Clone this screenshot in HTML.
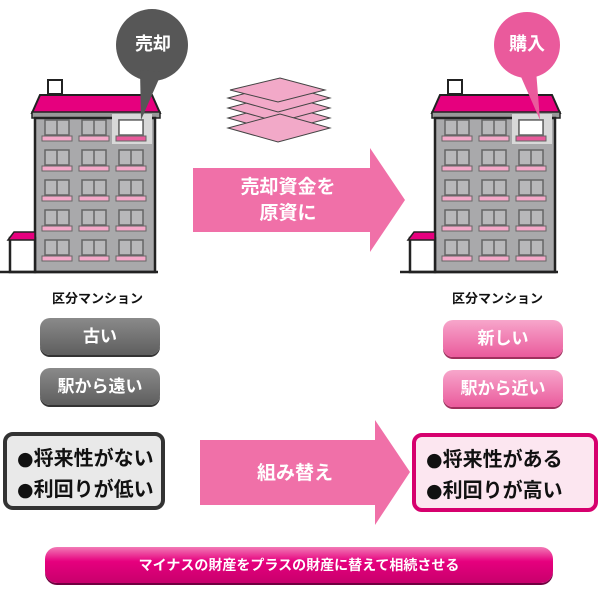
<!DOCTYPE html><html><head><meta charset="utf-8"><style>
body{margin:0;width:600px;height:594px;background:#fff;position:relative;overflow:hidden;font-family:"Liberation Sans","Noto Sans CJK JP",sans-serif;font-weight:bold}
.a{position:absolute}
.pill{position:absolute;border-radius:10px;text-align:center;font-size:17px;line-height:37px;color:#fff}
.g{background:linear-gradient(#8a8a8a,#5e5e5e);box-shadow:0 2px 0 #333}
.p{background:linear-gradient(#f7a6cb,#ea5a9c);box-shadow:0 2px 0 #a0305e}
.box{position:absolute;border-radius:10px;font-size:20px;line-height:31px;padding:8px 0 0 10px;box-sizing:border-box;color:#111;white-space:nowrap}
.box b{font-family:"DejaVu Sans",sans-serif;font-size:19px}
</style></head><body>
<svg class="a" style="left:0;top:0" width="600" height="594">
<defs>
<g id="bld">
<rect x="48" y="80" width="14" height="14" fill="#fff" stroke="#222" stroke-width="2"/>
<polygon points="32,113 40,95 152,95 160,113" fill="#e6007e" stroke="#222" stroke-width="2"/>
<rect x="32" y="112" width="128" height="6" fill="#999" stroke="#222" stroke-width="1.5"/>
<rect x="35" y="118" width="120" height="154" fill="#a9a9ab" stroke="#222" stroke-width="2.5"/>
<rect x="10" y="238" width="25" height="34" fill="#fff" stroke="#222" stroke-width="2.5"/>
<polygon points="8,240 14,232 35,232 35,240" fill="#e6007e" stroke="#222" stroke-width="1.5"/>
<line x1="0" y1="272" x2="158" y2="272" stroke="#222" stroke-width="2.5"/>
<rect x="112" y="114" width="40" height="30" fill="#d8d8d8"/>
<g id="row">
<g id="w"><rect x="45" y="120" width="24" height="15" fill="#b8b8ba" stroke="#666" stroke-width="1.5"/><line x1="57" y1="120" x2="57" y2="135" stroke="#666" stroke-width="1.5"/><rect x="42" y="136" width="30" height="5" fill="#f4a9c9" stroke="#666" stroke-width="1"/></g>
<use href="#w" x="37"/><use href="#w" x="74"/></g>
<use href="#row" y="30"/><use href="#row" y="60"/><use href="#row" y="90"/><use href="#row" y="120"/>
<rect x="119" y="120" width="24" height="15" fill="#fff" stroke="#666" stroke-width="1.5"/>
<rect x="116" y="136" width="30" height="5" fill="#e85a9a" stroke="#666" stroke-width="1"/>
</g>
</defs>
<use href="#bld"/>
<use href="#bld" x="400"/>
<circle cx="152" cy="45" r="36" fill="#575757"/>
<polygon points="140,70 162,72 141,120" fill="#575757"/>
<circle cx="527" cy="45" r="33" fill="#ea5a9c"/>
<polygon points="518,70 536,70 540,120" fill="#ea5a9c"/>
<g stroke="#444" stroke-width="1" fill="#f2a9c8">
<polygon points="228,118 280,104 330,118 278,132"/>
<polygon points="228,108 280,94 330,108 278,122"/>
<polygon points="228,98 280,84 330,98 278,112"/>
<polygon points="230,90 280,78 325,90 278,102"/>
<polygon points="228,128 280,114 330,128 278,142"/>
</g>
<polygon points="193,168 370,168 370,148 405,200 370,252 370,232 193,232" fill="#f070a8"/>
<polygon points="200,440 375,440 375,420 410,472 375,525 375,505 200,505" fill="#f070a8"/>
</svg>
<div class="a" style="top:30px;left:117px;width:72px;text-align:center;color:#fff;font-size:18px">売却</div>
<div class="a" style="left:492px;top:30px;width:70px;text-align:center;color:#fff;font-size:18px">購入</div>
<div class="a" style="left:193px;top:175px;width:190px;text-align:center;color:#fff;font-size:19px;line-height:26px">売却資金を<br>原資に</div>
<div class="a" style="left:200px;top:458px;width:190px;text-align:center;color:#fff;font-size:19px">組み替え</div>
<div class="a" style="left:35px;top:288px;width:125px;text-align:center;font-size:13px;color:#111">区分マンション</div>
<div class="a" style="left:435px;top:288px;width:125px;text-align:center;font-size:13px;color:#111">区分マンション</div>
<div class="pill g" style="left:40px;top:318px;width:120px">古い</div>
<div class="pill g" style="left:40px;top:368px;width:120px">駅から遠い</div>
<div class="pill p" style="left:443px;top:320px;width:120px">新しい</div>
<div class="pill p" style="left:443px;top:370px;width:120px">駅から近い</div>
<div class="box" style="left:3px;top:432px;width:162px;height:78px;background:#e9e9e9;border:4px solid #333"><b>●</b>将来性がない<br><b>●</b>利回りが低い</div>
<div class="box" style="left:412px;top:433px;width:186px;height:79px;background:#fce6f0;border:4px solid #d6006e"><b>●</b>将来性がある<br><b>●</b>利回りが高い</div>
<div class="a" style="left:45px;top:547px;width:508px;height:36px;border-radius:12px;background:linear-gradient(#f27ab6,#e6007e 40%,#c8006c);box-shadow:0 2px 0 #700040;color:#fff;text-align:center;font-size:14px;line-height:36px">マイナスの財産をプラスの財産に替えて相続させる</div>
</body></html>
